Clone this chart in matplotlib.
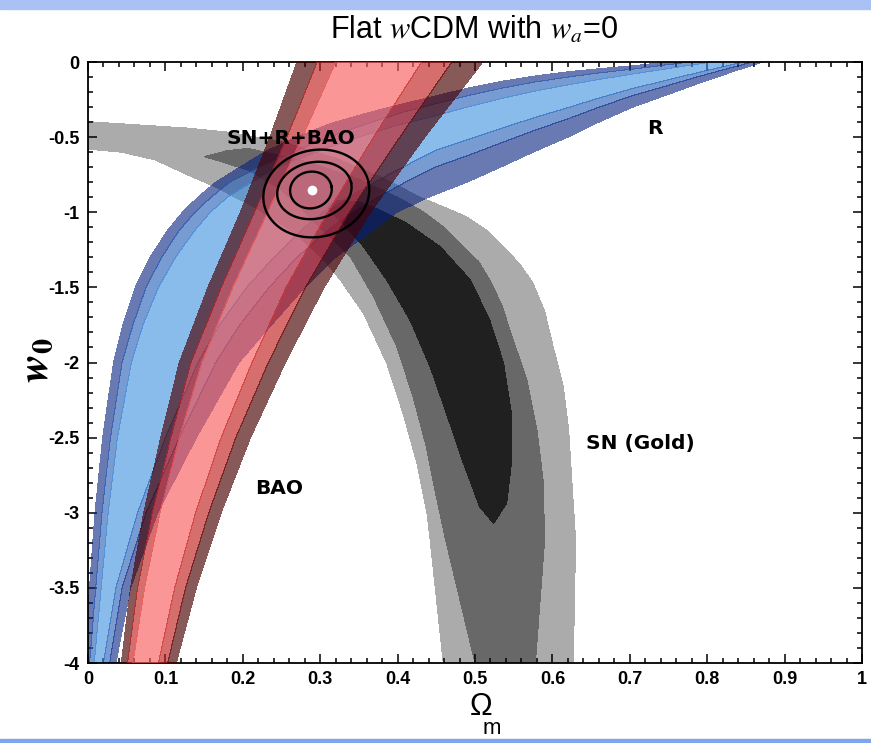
import numpy as np
import matplotlib
matplotlib.use('Agg')
import matplotlib.pyplot as plt
from matplotlib.patches import Rectangle

plt.rcParams['mathtext.fontset'] = 'stix'
plt.rcParams['axes.unicode_minus'] = False

# ---- BAO band: Omega_m of each contour edge at these w0 values ----
bao_w = [-4.2, -4.0, -3.5, -3.0, -2.5, -2.0, -1.5, -1.0, -0.5, 0.0, 0.1]
bao_left_3 = [0.038, 0.043, 0.055, 0.072, 0.094, 0.118, 0.155, 0.197, 0.235, 0.270, 0.278]
bao_left_2 = [0.045, 0.051, 0.064, 0.083, 0.107, 0.133, 0.172, 0.215, 0.257, 0.296, 0.305]
bao_left_1 = [0.052, 0.058, 0.073, 0.093, 0.118, 0.147, 0.187, 0.232, 0.277, 0.320, 0.330]
bao_right_1 = [0.082, 0.091, 0.112, 0.139, 0.172, 0.212, 0.256, 0.310, 0.369, 0.431, 0.443]
bao_right_2 = [0.093, 0.103, 0.126, 0.156, 0.191, 0.233, 0.281, 0.338, 0.403, 0.470, 0.485]
bao_right_3 = [0.104, 0.114, 0.140, 0.172, 0.210, 0.255, 0.305, 0.365, 0.435, 0.510, 0.525]

# ---- R (CMB shift) band: (Omega_m, w0) points along each contour edge ----
r_upper_3 = [(-0.012, -4.2), (-0.006, -4.0), (0.002, -3.5), (0.009, -3.0), (0.019, -2.5),
             (0.033, -2.0), (0.045, -1.75), (0.061, -1.5), (0.080, -1.3), (0.103, -1.12),
             (0.122, -1.0), (0.142, -0.9), (0.165, -0.8), (0.19, -0.72), (0.212, -0.65),
             (0.233, -0.586), (0.27, -0.5), (0.313, -0.41), (0.35, -0.355), (0.39, -0.30),
             (0.45, -0.225), (0.494, -0.17), (0.533, -0.13), (0.575, -0.095), (0.62, -0.065),
             (0.66, -0.045), (0.704, -0.025), (0.75, 0.0), (0.79, 0.02), (0.83, 0.04),
             (0.871, 0.06)]
r_upper_2 = [(-0.004, -4.2), (0.002, -4.0), (0.010, -3.5), (0.018, -3.0), (0.029, -2.5),
             (0.044, -2.0), (0.058, -1.75), (0.075, -1.5), (0.095, -1.3), (0.118, -1.12),
             (0.138, -1.0), (0.159, -0.9), (0.183, -0.80), (0.207, -0.735), (0.25, -0.635),
             (0.29, -0.545), (0.33, -0.465), (0.37, -0.395), (0.41, -0.33), (0.45, -0.277),
             (0.494, -0.22), (0.533, -0.176), (0.575, -0.135), (0.62, -0.10), (0.66, -0.073),
             (0.704, -0.047), (0.75, -0.017), (0.79, 0.007), (0.83, 0.031), (0.871, 0.055)]
r_upper_1 = [(0.002, -4.2), (0.008, -4.0), (0.017, -3.5), (0.026, -3.0), (0.038, -2.5),
             (0.056, -2.0), (0.071, -1.75), (0.091, -1.5), (0.113, -1.3), (0.138, -1.12),
             (0.158, -1.0), (0.180, -0.9), (0.205, -0.82), (0.23, -0.75), (0.27, -0.655),
             (0.31, -0.57), (0.35, -0.50), (0.40, -0.42), (0.45, -0.356), (0.494, -0.294),
             (0.533, -0.244), (0.575, -0.196), (0.62, -0.152), (0.66, -0.116), (0.704, -0.08),
             (0.75, -0.043), (0.79, -0.012), (0.83, 0.018), (0.871, 0.048)]
r_lower_1 = [(0.016, -4.2), (0.020, -4.0), (0.036, -3.5), (0.064, -3.0), (0.100, -2.5),
             (0.142, -2.0), (0.170, -1.75), (0.205, -1.5), (0.240, -1.3), (0.275, -1.12),
             (0.303, -1.0), (0.335, -0.9), (0.39, -0.745), (0.45, -0.585), (0.494, -0.511),
             (0.533, -0.444), (0.575, -0.373), (0.62, -0.304), (0.66, -0.24), (0.704, -0.176),
             (0.75, -0.118), (0.79, -0.068), (0.83, -0.02), (0.871, 0.027), (0.92, 0.08)]
r_lower_2 = [(0.024, -4.2), (0.028, -4.0), (0.044, -3.5), (0.075, -3.0), (0.118, -2.5),
             (0.165, -2.0), (0.196, -1.75), (0.234, -1.5), (0.270, -1.3), (0.310, -1.12),
             (0.340, -1.0), (0.375, -0.9), (0.41, -0.8), (0.45, -0.697), (0.494, -0.616),
             (0.533, -0.54), (0.575, -0.459), (0.62, -0.378), (0.66, -0.301), (0.704, -0.223),
             (0.75, -0.155), (0.79, -0.095), (0.83, -0.039), (0.871, 0.017), (0.92, 0.08)]
r_lower_3 = [(0.033, -4.2), (0.036, -4.0), (0.055, -3.5), (0.090, -3.0), (0.140, -2.5),
             (0.195, -2.0), (0.237, -1.75), (0.280, -1.5), (0.320, -1.3), (0.368, -1.12),
             (0.399, -1.0), (0.44, -0.9), (0.455, -0.87), (0.494, -0.79), (0.533, -0.70),
             (0.575, -0.60), (0.62, -0.5), (0.66, -0.40), (0.704, -0.30), (0.75, -0.215),
             (0.79, -0.14), (0.83, -0.07), (0.871, 0.0), (0.92, 0.08)]

# ---- SN (Gold) contours ----
sn_outer_edge = [(-0.03, -0.395), (0.0, -0.397), (0.129, -0.44), (0.181, -0.467), (0.25, -0.53),
                 (0.32, -0.64), (0.38, -0.77), (0.429, -0.9), (0.462, -0.97), (0.489, -1.03),
                 (0.515, -1.12), (0.541, -1.25), (0.56, -1.36), (0.575, -1.473), (0.59, -1.66),
                 (0.601, -1.895), (0.614, -2.161), (0.621, -2.449), (0.625, -2.782),
                 (0.630, -3.18), (0.627, -4.0), (0.627, -4.2)]
sn_inner_edge = [(-0.03, -0.575), (0.0, -0.58), (0.043, -0.60), (0.087, -0.652), (0.129, -0.752),
                 (0.164, -0.83), (0.22, -0.98), (0.27, -1.15), (0.305, -1.32), (0.326, -1.451),
                 (0.356, -1.673), (0.386, -2.005), (0.407, -2.338), (0.425, -2.671),
                 (0.438, -3.004), (0.442, -3.18), (0.459, -4.0), (0.46, -4.2)]
sn_mid_outer = [(0.15, -0.63), (0.18, -0.59), (0.207, -0.575), (0.28, -0.66), (0.35, -0.78),
                (0.40, -0.90), (0.433, -0.996), (0.46, -1.1), (0.485, -1.229), (0.505, -1.33),
                (0.519, -1.451), (0.535, -1.62), (0.545, -1.784), (0.567, -2.116),
                (0.58, -2.449), (0.588, -2.782), (0.59, -3.18), (0.578, -4.0), (0.577, -4.2)]
sn_mid_inner = [(0.15, -0.63), (0.17, -0.66), (0.207, -0.72), (0.25, -0.85), (0.30, -1.10),
                (0.339, -1.296), (0.369, -1.562), (0.399, -1.895), (0.42, -2.228), (0.437, -2.56),
                (0.45, -2.893), (0.462, -3.18), (0.50, -4.0), (0.50, -4.2)]
sn_core = [(0.524, -3.07), (0.506, -2.96), (0.485, -2.671), (0.463, -2.338), (0.442, -2.028),
           (0.416, -1.717), (0.386, -1.451), (0.356, -1.229), (0.33, -1.08), (0.31, -0.97),
           (0.32, -0.92), (0.35, -0.93), (0.377, -0.985), (0.412, -1.074), (0.455, -1.229),
           (0.494, -1.451), (0.519, -1.717), (0.537, -2.005), (0.547, -2.338), (0.547, -2.671),
           (0.541, -2.937)]

# ---- SN+R+BAO joint contours (ellipses) and best fit ----
joint_om = [0.288, 0.2925, 0.295]
joint_w = [-0.852, -0.855, -0.875]
joint_half_om = [0.027, 0.0485, 0.069]
joint_half_w = [0.122, 0.188, 0.289]
joint_tilt = [10, 12, 12]
best_fit = (0.289, -0.852)

sn_colors = ['#ababab', '#686868', '#202020']
r_colors = ['#05217f', '#1e58b4', '#3a8edf']     # outer, middle, inner
bao_colors = ['#470000', '#c22020', '#f85e5e']

fig = plt.figure(figsize=(8.71, 7.43), dpi=100)
ax = fig.add_axes([88 / 871, 80 / 743, 774 / 871, 601 / 743])
ax.set_xlim(0, 1)
ax.set_ylim(-4, 0)


def pts(curve):
    a = np.array(curve)
    return a[:, 0], a[:, 1]


def ring(ax, c1, c2, color, alpha, z):
    x1, y1 = pts(c1)
    x2, y2 = pts(c2)
    ax.fill(np.concatenate([x1, x2[::-1]]), np.concatenate([y1, y2[::-1]]),
            color=color, alpha=alpha, lw=0, antialiased=False, zorder=z)


# SN
ring(ax, sn_outer_edge, sn_inner_edge, sn_colors[0], 1, 1)
ring(ax, sn_mid_outer, sn_mid_inner, sn_colors[1], 1, 1)
cx, cy = pts(sn_core)
ax.fill(cx, cy, color=sn_colors[2], lw=0, antialiased=False, zorder=1)

# R
r_curves = [r_upper_3, r_upper_2, r_upper_1, r_lower_1, r_lower_2, r_lower_3]
r_ring_col = [r_colors[0], r_colors[1], r_colors[2], r_colors[1], r_colors[0]]
for i in range(5):
    ring(ax, r_curves[i], r_curves[i + 1], r_ring_col[i], 0.6, 2)

# BAO
bao_edges = [bao_left_3, bao_left_2, bao_left_1, bao_right_1, bao_right_2, bao_right_3]
bao_ring_col = [bao_colors[0], bao_colors[1], bao_colors[2], bao_colors[1], bao_colors[0]]
for i in range(5):
    a = list(zip(bao_edges[i], bao_w))
    b = list(zip(bao_edges[i + 1], bao_w))
    ring(ax, a, b, bao_ring_col[i], 0.65, 3)

# joint contours, ellipses drawn in screen-proportional units
sx = 774 / 1.0
sy = 601 / 4.0
t = np.linspace(0, 2 * np.pi, 300)
for om, w, hx, hy, ang in zip(joint_om, joint_w, joint_half_om, joint_half_w, joint_tilt):
    th = np.deg2rad(ang)
    px = hx * sx * np.cos(t)
    py = hy * sy * np.sin(t)
    ex = om + (px * np.cos(th) - py * np.sin(th)) / sx
    ey = w + (px * np.sin(th) + py * np.cos(th)) / sy
    ax.plot(ex, ey, color='black', lw=1.7, zorder=4)
ax.plot(*best_fit, 'o', color='white', ms=7, mec='none', zorder=5)

lab = dict(fontsize=14.5, fontweight='bold', ha='center', va='center', zorder=6)
ax.text(0.262, -0.506, 'SN+R+BAO', **lab)
ax.text(0.733, -0.44, 'R', **lab)
ax.text(0.714, -2.536, 'SN (Gold)', **lab)
ax.text(0.247, -2.84, 'BAO', **lab)

ax.set_xticks(np.arange(0, 1.01, 0.1))
ax.set_xticks(np.arange(0, 1.001, 0.02), minor=True)
ax.set_yticks(np.arange(-4, 0.01, 0.5))
ax.set_yticks(np.arange(-4, 0.001, 0.1), minor=True)
ax.xaxis.set_major_formatter(plt.FuncFormatter(lambda v, p: '%g' % round(v, 2)))
ax.yaxis.set_major_formatter(plt.FuncFormatter(lambda v, p: '%g' % round(v, 2)))
ax.tick_params(which='both', direction='in', top=True, right=True, width=1.1)
ax.tick_params(which='major', length=6.5, pad=6)
ax.tick_params(which='minor', length=3.5)
for lbl in ax.get_xticklabels() + ax.get_yticklabels():
    lbl.set_fontfamily('Liberation Sans')
    lbl.set_fontweight('bold')
    lbl.set_fontsize(13)
for s in ax.spines.values():
    s.set_linewidth(1.3)

fig.text(0.545, 1 - 30 / 743, 'Flat $w$CDM with $w_a$=0', ha='center', va='center',
         fontsize=22, family='Liberation Sans')
fig.text(35 / 871, 1 - 360 / 743, r'$\mathbfit{w}_\mathbf{0}$', rotation=90,
         ha='center', va='center', fontsize=31)
fig.text(481 / 871, 1 - 707 / 743, 'Ω', ha='center', va='center', fontsize=22,
         family='Liberation Sans')
fig.text(492 / 871, 1 - 729 / 743, 'm', ha='center', va='center', fontsize=16,
         family='Liberation Sans')

# slide decoration at top and bottom edges
fig.patches.append(Rectangle((0, 1 - 9 / 743), 1, 9 / 743, transform=fig.transFigure,
                             color='#a9c1f4', zorder=0))
fig.patches.append(Rectangle((0, 0), 1, 4 / 743, transform=fig.transFigure,
                             color='#7ea6ee', zorder=0))

fig.savefig('out.png', dpi=100)
